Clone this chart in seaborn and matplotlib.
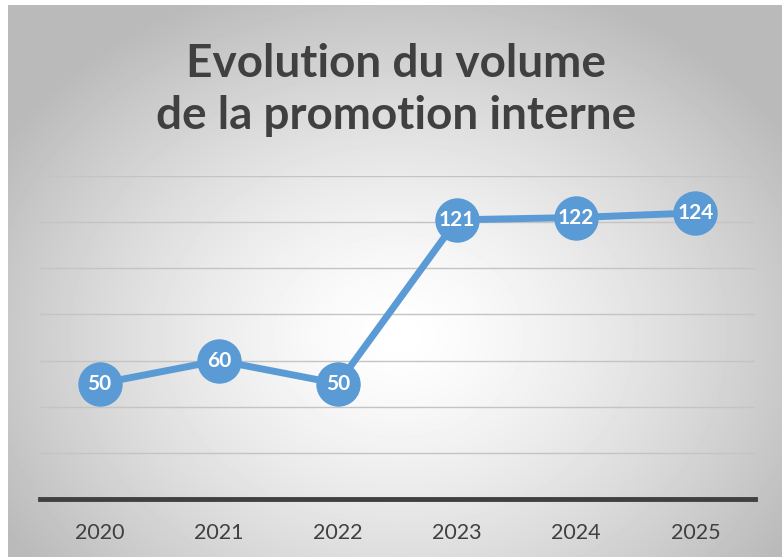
import matplotlib.pyplot as plt
import numpy as np
import pandas as pd
import seaborn as sns

years = ['2020', '2021', '2022', '2023', '2024', '2025']
volumes = [50, 60, 50, 121, 122, 124]
title = 'Evolution du volume\nde la promotion interne'

line_color = '#5B9BD5'
text_color = '#404040'

sns.set_theme(style='white')
plt.rcParams['font.family'] = ['Lato', 'DejaVu Sans']

fig = plt.figure(figsize=(7.82, 5.59), dpi=100)

# radial grey gradient behind the chart
bg = fig.add_axes([8 / 782, 2 / 559, 774 / 782, 552 / 559])
h, w = 552, 774
yy, xx = np.mgrid[0:h, 0:w]
d = np.sqrt(((xx - 390) / 460.0) ** 2 + ((yy - 330) / 370.0) ** 2)
shade = 1 - 0.27 * np.clip(d, 0, 1) ** 1.4
bg.imshow(shade, cmap='gray', vmin=0, vmax=1, aspect='auto', interpolation='bilinear')
bg.axis('off')

ax = fig.add_axes([40 / 782, 60 / 559, 715 / 782, 323 / 559])
ax.patch.set_alpha(0)

df = pd.DataFrame({'pos': range(len(years)), 'volume': volumes})
sns.lineplot(data=df, x='pos', y='volume', ax=ax, color=line_color, linewidth=5,
             marker='o', markersize=32, markeredgewidth=0, zorder=3)

for x, v in zip(df['pos'], df['volume']):
    ax.text(x, v, str(v), ha='center', va='center', color='white',
            fontweight='bold', fontsize=15, zorder=4)

ax.set_xlim(-0.5, len(years) - 0.5)
ax.set_ylim(0, 140)
ax.set_yticks(range(0, 141, 20))
ax.set_yticklabels([])
ax.yaxis.grid(True, color='#c4c4c4', linewidth=1)
ax.set_axisbelow(True)
ax.set_xticks(range(len(years)))
ax.set_xticklabels(years, fontsize=15.5, color=text_color)
ax.tick_params(axis='both', length=0)
ax.tick_params(axis='x', pad=17)
ax.set_xlabel('')
ax.set_ylabel('')
for side in ['left', 'right', 'top']:
    ax.spines[side].set_visible(False)
ax.spines['bottom'].set_color(text_color)
ax.spines['bottom'].set_linewidth(3.5)

fig.text(396 / 782, 1 - 90 / 559, title, ha='center', va='center', fontsize=33,
         fontweight='bold', color=text_color, linespacing=1.3)

fig.savefig('out.png', dpi=100)
